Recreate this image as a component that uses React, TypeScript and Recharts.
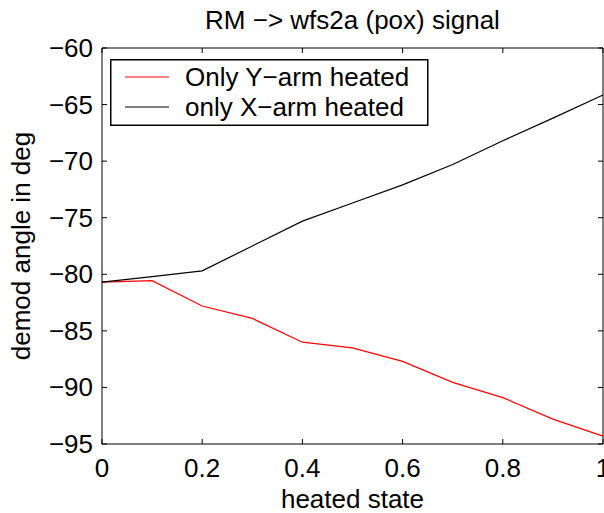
import React from 'react';
import { LineChart, Line, XAxis, YAxis, Legend } from 'recharts';

const heatedState = [0, 0.1, 0.2, 0.3, 0.4, 0.5, 0.6, 0.7, 0.8, 0.9, 1];
const yArmHeated = [-80.7, -80.56, -82.8, -83.9, -86.0, -86.5, -87.7, -89.55, -90.9, -92.8, -94.3];
const xArmHeated = [-80.7, -80.2, -79.7, -77.5, -75.3, -73.7, -72.1, -70.3, -68.2, -66.2, -64.15];
const xTicks = [0, 0.2, 0.4, 0.6, 0.8, 1];
const yTicks = [-95, -90, -85, -80, -75, -70, -65, -60];
const seriesNames = ['Only Y\u2212arm heated', 'only X\u2212arm heated'];
const seriesColors = ['#ff0000', '#000000'];
const titleText = 'RM \u2212> wfs2a (pox) signal';
const xLabelText = 'heated state';
const yLabelText = 'demod angle in deg';

const data = heatedState.map((h, i) => ({ h, y: yArmHeated[i], x: xArmHeated[i] }));

const W = 604;
const H = 513;
const PL = 102;
const PR = 603;
const PT = 48;
const PB = 444;
const FONT = '"Liberation Sans", Arial, Helvetica, sans-serif';
const FS = 26;
const TICK = 5;

const fmt = (v: number) => String(v).replace('-', '\u2212');

const XTick = (props: any) => {
  const { x, payload } = props;
  return (
    <g>
      <line x1={x} x2={x} y1={PB} y2={PB - TICK} stroke="#000" strokeWidth={1} />
      <line x1={x} x2={x} y1={PT} y2={PT + TICK} stroke="#000" strokeWidth={1} />
      <text x={x} y={PB + 33} textAnchor="middle" fontFamily={FONT} fontSize={FS} fill="#000">
        {fmt(payload.value)}
      </text>
    </g>
  );
};

const YTick = (props: any) => {
  const { y, payload } = props;
  return (
    <g>
      <line x1={PL} x2={PL + TICK} y1={y} y2={y} stroke="#000" strokeWidth={1} />
      <line x1={PR} x2={PR - TICK} y1={y} y2={y} stroke="#000" strokeWidth={1} />
      <text x={PL - 9} y={y + 9} textAnchor="end" fontFamily={FONT} fontSize={FS} fill="#000">
        {fmt(payload.value)}
      </text>
    </g>
  );
};

const LegendBox = (props: any) => {
  const payload = props.payload || [];
  return (
    <svg width={320} height={68} style={{ display: 'block' }}>
      <rect x={0.75} y={0.75} width={317} height={65.5} fill="#fff" stroke="#000" strokeWidth={1.5} />
      {payload.map((p: any, i: number) => (
        <g key={i}>
          <line x1={15} x2={59} y1={18 + i * 30} y2={18 + i * 30} stroke={p.color} strokeWidth={1} />
          <text x={75} y={27 + i * 30} fontFamily={FONT} fontSize={FS} fill="#000">
            {p.value}
          </text>
        </g>
      ))}
    </svg>
  );
};

export default function App() {
  return (
    <div style={{ position: 'absolute', left: 0, top: 0, width: W, height: H, background: '#fff', overflow: 'hidden' }}>
      <LineChart
        width={W}
        height={H}
        data={data}
        margin={{ top: PT - 1, right: W - PR - 1, bottom: H - PB - 1, left: PL - 1 }}
        style={{ fontFamily: FONT }}
      >
        <XAxis
          xAxisId="b"
          dataKey="h"
          type="number"
          domain={[0, 1]}
          ticks={xTicks}
          height={1}
          tickSize={0}
          tickLine={false}
          axisLine={{ stroke: '#000', strokeWidth: 1 }}
          tick={<XTick />}
          interval={0}
          label={{ value: xLabelText, position: 'bottom', offset: 45, fontSize: FS, fill: '#000', fontFamily: FONT }}
        />
        <XAxis
          xAxisId="t"
          dataKey="h"
          type="number"
          domain={[0, 1]}
          orientation="top"
          height={1}
          tick={false}
          tickLine={false}
          axisLine={{ stroke: '#000', strokeWidth: 1 }}
          label={{ value: titleText, position: 'top', offset: 18, fontSize: FS, fill: '#000', fontFamily: FONT }}
        />
        <YAxis
          yAxisId="l"
          type="number"
          domain={[-95, -60]}
          ticks={yTicks}
          width={1}
          tickSize={0}
          tickLine={false}
          axisLine={{ stroke: '#000', strokeWidth: 1 }}
          tick={<YTick />}
          interval={0}
          label={{ value: yLabelText, angle: -90, position: 'left', offset: 80, fontSize: FS, fill: '#000', fontFamily: FONT, style: { textAnchor: 'middle' } }}
        />
        <YAxis
          yAxisId="r"
          type="number"
          domain={[-95, -60]}
          orientation="right"
          width={1}
          tick={false}
          tickLine={false}
          axisLine={{ stroke: '#000', strokeWidth: 1 }}
        />
        <Legend
          content={<LegendBox />}
          layout="horizontal"
          verticalAlign="middle"
          align="center"
          wrapperStyle={{ position: 'absolute', left: 110, top: 59, width: 320, height: 68 }}
        />
        <Line
          xAxisId="b"
          yAxisId="l"
          dataKey="y"
          name={seriesNames[0]}
          stroke={seriesColors[0]}
          strokeWidth={1.2}
          dot={false}
          isAnimationActive={false}
        />
        <Line
          xAxisId="b"
          yAxisId="l"
          dataKey="x"
          name={seriesNames[1]}
          stroke={seriesColors[1]}
          strokeWidth={1.2}
          dot={false}
          isAnimationActive={false}
        />
      </LineChart>
    </div>
  );
}
